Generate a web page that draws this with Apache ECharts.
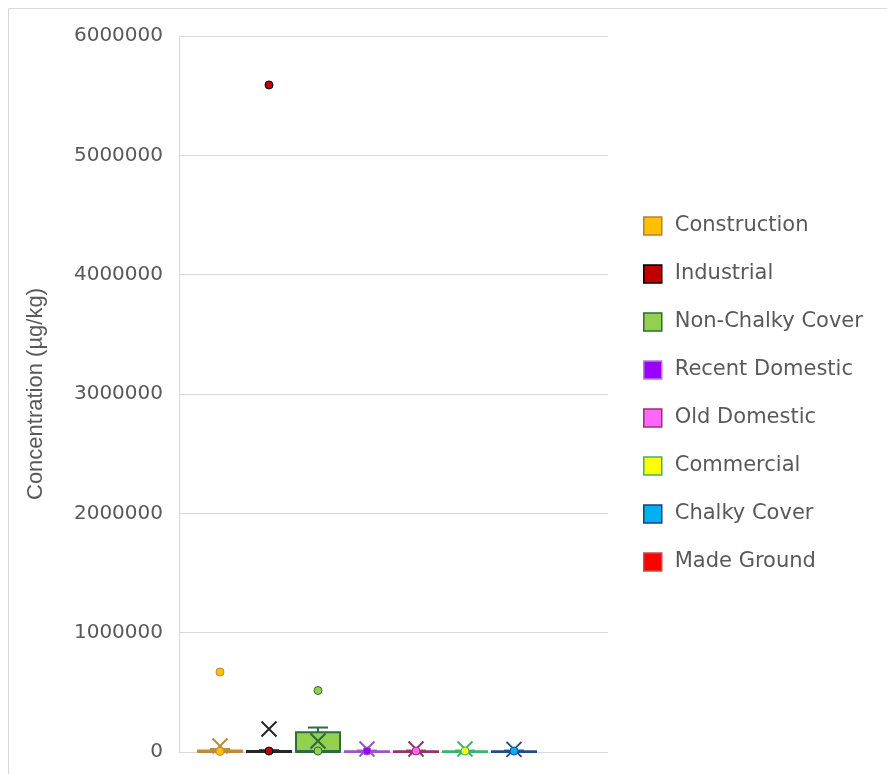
<!DOCTYPE html>
<html><head><meta charset="utf-8">
<script src="https://cdn.jsdelivr.net/npm/echarts@6/dist/echarts.min.js"></script>
<style>html,body{margin:0;padding:0;background:#fff}#c{width:887px;height:774px}</style>
</head><body><div id="c"></div>
<script>
const categories = ['Construction','Industrial','Non-Chalky Cover','Recent Domestic','Old Domestic','Commercial','Chalky Cover','Made Ground'];
// [min, Q1, median, Q3, max] (Made Ground has no box)
const boxStats = [
  [0, 2000, 5000, 12000, 25000],
  [0, 1000, 3000, 8000, 15000],
  [0, 3000, 8000, 165000, 205000],
  [0, 1000, 3000, 6000, 12000],
  [0, 1000, 3000, 6000, 12000],
  [0, 1000, 3000, 6000, 12000],
  [0, 1000, 3000, 6000, 12000]
];
const means = [50000, 193000, 92000, 25000, 25000, 25000, 22000];
const outliers = [[670000, 5000], [5590000, 8000], [515000, 8000], [8000], [8000], [8000], [8000], []];
const fillColors = ['#ffc000','#c00000','#92d050','#9900ff','#ff66ff','#ffff00','#00b0f0','#ff0000'];
const lineColors = ['#c08a3e','#262626','#2e6b3e','#9955cc','#993366','#3cb371','#1f4e8c','#c0504d'];
const legendBorders = ['#b5803a','#000000','#2e6b3e','#b07fe0','#993366','#3cb371','#1f3e80','#c0504d'];
const yMin = 0, yMax = 6000000, yInterval = 1000000;

const TXT = '#595959';
const chart = echarts.init(document.getElementById('c'), null, {renderer: 'canvas'});
const series = [];
// box (upper whisker drawn separately with a short cap, Excel style)
series.push({
  type: 'boxplot', xAxisIndex: 1, yAxisIndex: 1, boxWidth: [44, 44], z: 2,
  data: boxStats.map((v, i) => ({value: [v[0], v[1], v[2], v[3], v[3]], itemStyle: {color: fillColors[i], borderColor: lineColors[i], borderWidth: 2}}))
});
series.push({
  type: 'custom', xAxisIndex: 1, yAxisIndex: 1, z: 2,
  data: boxStats.map((v, i) => [i, v[3], v[4]]),
  renderItem: function (params, api) {
    const i = api.value(0);
    const p1 = api.coord([i, api.value(1)]);
    const p2 = api.coord([i, api.value(2)]);
    const st = {stroke: lineColors[i], lineWidth: 2};
    return {type: 'group', children: [
      {type: 'line', shape: {x1: p1[0], y1: p1[1], x2: p2[0], y2: p2[1]}, style: st},
      {type: 'line', shape: {x1: p2[0] - 10, y1: p2[1], x2: p2[0] + 10, y2: p2[1]}, style: st}
    ]};
  }
});
series.push({
  type: 'scatter', xAxisIndex: 1, yAxisIndex: 1, z: 3,
  symbol: 'path://M0,0L10,10M10,0L0,10', symbolSize: 15,
  data: means.map((m, i) => ({value: [i, m], itemStyle: {color: 'none', borderColor: lineColors[i], borderWidth: 2, opacity: 1}}))
});
categories.forEach((name, i) => {
  series.push({
    name: name, type: 'scatter', xAxisIndex: 1, yAxisIndex: 1, z: 4,
    symbol: 'circle', symbolSize: 8,
    itemStyle: {color: fillColors[i], borderColor: i === 1 ? '#000' : lineColors[i], borderWidth: 1, opacity: 1},
    data: outliers[i].map(v => [i, v])
  });
});

chart.setOption({
  animation: false,
  backgroundColor: '#fff',
  graphic: [{type: 'rect', shape: {x: 8.5, y: 8.5, width: 900, height: 800}, style: {fill: 'none', stroke: '#d9d9d9', lineWidth: 1}, silent: true}],
  grid: [
    {left: 179, right: 279, top: 36, bottom: 22},
    {left: 195.5, width: 392, top: 36, bottom: 22}
  ],
  xAxis: [
    {gridIndex: 0, type: 'category', data: [''], axisLine: {show: false}, axisTick: {show: false}, axisLabel: {show: false}},
    {gridIndex: 1, type: 'category', data: categories, show: false}
  ],
  yAxis: [
    {gridIndex: 0, type: 'value', min: yMin, max: yMax, interval: yInterval,
     name: 'Concentration (µg/kg)', nameLocation: 'middle', nameGap: 132,
     nameTextStyle: {fontFamily: 'Liberation Sans', fontSize: 22, color: TXT},
     axisLine: {show: true, lineStyle: {color: '#d9d9d9'}}, axisTick: {show: false},
     axisLabel: {fontFamily: 'DejaVu Sans', fontSize: 20, color: TXT, margin: 16, formatter: v => String(v)},
     splitLine: {lineStyle: {color: '#d9d9d9', width: 1}}},
    {gridIndex: 1, type: 'value', min: yMin, max: yMax, interval: yInterval, show: false, splitLine: {show: false}}
  ],
  legend: {
    orient: 'vertical', left: 643, top: 215.5, padding: 0, itemWidth: 18, itemHeight: 18, itemGap: 27,
    textStyle: {fontFamily: 'DejaVu Sans', fontSize: 21, color: TXT, padding: [0, 0, 0, 8]},
    data: categories.map((n, i) => ({name: n, icon: 'rect', itemStyle: {color: fillColors[i], borderColor: legendBorders[i], borderWidth: 1.5, opacity: 1}}))
  },
  series: series
});
</script></body></html>
